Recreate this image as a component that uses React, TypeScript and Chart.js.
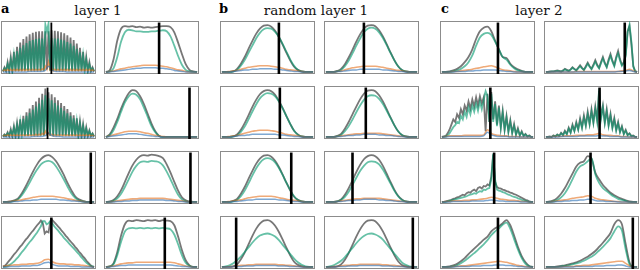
import React, { useEffect, useRef } from "react";
import { Chart, registerables } from "chart.js";

Chart.register(...registerables);

// ---------- titles ----------
const panelLetters = ["a", "b", "c"];
const panelTitles = ["layer 1", "random layer 1", "layer 2"];

// ---------- panel a (row-major: r1c1, r1c2, r2c1, r2c2, r3c1, r3c2, r4c1, r4c2) ----------
const a1Gray = [.02,.1,.03,.2,.03,.3,.04,.4,.04,.5,.04,.58,.04,.65,.05,.7,.05,.74,.05,.77,.05,.79,.05,.8,.05,.8,.05,.8,.06,.8,.05,.82,.05,.81,.05,.8,.05,.78,.05,.76,.05,.72,.05,.68,.04,.63,.04,.56,.04,.48,.04,.4,.03,.3,.03,.2,.03,.1,.02];
const a1Green = [.02,.08,.03,.16,.03,.24,.03,.33,.03,.41,.03,.48,.03,.53,.03,.57,.03,.61,.03,.63,.03,.65,.03,.66,.03,.66,.03,.93,.8,.95,.03,.67,.03,.66,.03,.66,.03,.64,.03,.62,.03,.59,.03,.56,.03,.52,.03,.46,.03,.39,.03,.33,.03,.25,.03,.16,.03,.08,.02];
const a1Orange = [.02,.05,.03,.06,.03,.06,.03,.06,.03,.06,.03,.06,.03,.06,.03,.06,.03,.06,.03,.06,.03,.06,.03,.06,.03,.07,.04,.12,.06,.2,.05,.08,.03,.06,.03,.06,.03,.06,.03,.06,.03,.06,.03,.06,.03,.06,.03,.06,.03,.06,.03,.06,.03,.06,.03,.06,.03,.05,.02];
const a1Blue = [.01,.01,.01,.01,.01,.01,.01,.02,.02,.02,.02,.03,.12,.04,.02,.02,.02,.01,.01,.01,.01,.01,.01,.01,.01];

const a2Gray = [.01,.04,.25,.62,.85,.9,.89,.9,.88,.89,.87,.88,.87,.88,.89,.9,.9,.88,.78,.58,.36,.16,.05,.02,.01];
const a2Green = [.01,.02,.08,.3,.6,.78,.83,.82,.8,.8,.79,.79,.8,.8,.81,.82,.8,.7,.52,.32,.15,.05,.02,.01,.01];
const a2Orange = [.01,.02,.03,.05,.07,.08,.1,.11,.12,.13,.14,.14,.14,.14,.13,.12,.11,.09,.07,.05,.04,.02,.01,.01,.01];
const a2Blue = [.01,.01,.02,.03,.04,.05,.06,.07,.08,.08,.09,.09,.09,.09,.08,.08,.07,.06,.04,.03,.02,.01,.01,.01,.01];

const a3Gray = [.02,.06,.03,.1,.03,.16,.03,.22,.03,.28,.04,.35,.04,.42,.04,.49,.04,.56,.05,.63,.05,.7,.05,.77,.05,.85,.05,.95,.06,.88,.05,.84,.05,.78,.05,.72,.05,.67,.05,.61,.05,.55,.04,.49,.04,.43,.04,.37,.04,.31,.03,.26,.03,.2,.03,.14,.03,.08,.02];
const a3Green = [.02,.05,.03,.08,.03,.13,.03,.19,.03,.24,.03,.3,.03,.36,.03,.42,.03,.48,.03,.54,.03,.6,.03,.66,.03,.73,.03,.82,.04,.76,.03,.72,.03,.67,.03,.62,.03,.57,.03,.52,.03,.47,.03,.42,.03,.37,.03,.32,.03,.27,.03,.22,.03,.17,.03,.12,.03,.07,.02];
const a3Orange = [.02,.04,.03,.05,.03,.05,.03,.05,.03,.05,.03,.05,.03,.05,.03,.05,.03,.05,.03,.05,.03,.06,.03,.06,.04,.08,.05,.12,.05,.09,.04,.06,.03,.05,.03,.05,.03,.05,.03,.05,.03,.05,.03,.05,.03,.05,.03,.05,.03,.05,.03,.05,.03,.05,.03,.05,.03,.04,.02];
const a3Blue = [.01,.01,.01,.01,.01,.01,.01,.01,.02,.02,.02,.03,.08,.03,.02,.02,.01,.01,.01,.01,.01,.01,.01,.01,.01];

const a4Gray = [.01,.06,.19,.36,.56,.73,.86,.92,.9,.8,.65,.46,.27,.12,.03,.01,.01,.01,.01,.01,.01,.01,.01,.01,.01];
const a4Green = [.01,.04,.14,.3,.5,.68,.8,.85,.83,.74,.58,.4,.22,.1,.03,.01,.01,.01,.01,.01,.01,.01,.01,.01,.01];
const a4Orange = [.01,.03,.05,.07,.09,.11,.12,.12,.12,.11,.09,.08,.06,.04,.03,.02,.01,.01,.01,.01,.01,.01,.01,.01,.01];
const a4Blue = [.01,.02,.03,.04,.05,.06,.07,.07,.07,.06,.05,.04,.03,.02,.02,.01,.01,.01,.01,.01,.01,.01,.01,.01,.01];

const a5Gray = [.01,.01,.02,.04,.08,.18,.31,.46,.61,.74,.84,.9,.92,.88,.8,.68,.54,.38,.24,.12,.06,.03,.01,.01,.01];
const a5Green = [.01,.01,.01,.03,.06,.14,.25,.38,.52,.64,.74,.79,.81,.78,.7,.58,.45,.31,.18,.09,.04,.02,.01,.01,.01];
const a5Orange = [.01,.01,.02,.03,.04,.05,.07,.08,.1,.11,.12,.12,.12,.12,.11,.1,.09,.07,.06,.04,.03,.02,.01,.01,.01];
const a5Blue = [.01,.01,.01,.02,.02,.03,.04,.04,.05,.05,.06,.06,.06,.06,.06,.05,.05,.04,.03,.03,.02,.01,.01,.01,.01];

const a6Gray = [.01,.02,.05,.12,.24,.4,.57,.72,.83,.9,.92,.91,.93,.92,.9,.86,.74,.58,.4,.23,.1,.04,.02,.01,.01];
const a6Green = [.01,.01,.03,.08,.17,.3,.45,.6,.71,.78,.8,.79,.81,.8,.78,.72,.6,.45,.29,.15,.06,.02,.01,.01,.01];
const a6Orange = [.01,.01,.02,.03,.04,.05,.06,.07,.07,.08,.08,.08,.08,.08,.08,.08,.07,.06,.05,.04,.03,.02,.01,.01,.01];
const a6Blue = [.01,.01,.01,.02,.02,.03,.03,.04,.04,.05,.05,.05,.05,.05,.05,.05,.04,.04,.03,.02,.02,.01,.01,.01,.01];

const a7Gray = [.02,.03,.07,.12,.16,.21,.26,.3,.35,.4,.44,.49,.54,.58,.63,.68,.72,.77,.82,.86,.91,.86,.66,.7,.68,.9,.92,.88,.84,.8,.76,.71,.67,.62,.58,.53,.49,.45,.4,.36,.31,.27,.22,.18,.13,.09,.05,.02,.01];
const a7Green = [.01,.01,.02,.04,.06,.09,.12,.16,.2,.25,.3,.34,.39,.44,.49,.53,.58,.63,.68,.74,.8,.9,.9,.84,.86,.9,.86,.8,.76,.72,.67,.63,.58,.54,.5,.46,.42,.38,.34,.3,.26,.21,.17,.13,.09,.06,.03,.02,.01];
const a7Orange = [.02,.03,.04,.05,.05,.06,.06,.07,.07,.08,.1,.15,.16,.11,.08,.07,.07,.06,.06,.05,.05,.04,.03,.02,.01];
const a7Blue = [.01,.01,.02,.02,.02,.03,.03,.03,.04,.04,.06,.09,.1,.06,.04,.03,.03,.03,.02,.02,.02,.01,.01,.01,.01];

const a8Gray = [.01,.02,.08,.3,.62,.84,.91,.9,.92,.91,.9,.92,.91,.92,.9,.92,.91,.9,.82,.6,.34,.14,.04,.01,.01];
const a8Green = [.01,.02,.06,.24,.5,.7,.76,.77,.76,.77,.76,.77,.76,.77,.76,.77,.76,.74,.64,.45,.24,.09,.03,.01,.01];
const a8Orange = [.01,.02,.03,.05,.07,.08,.09,.09,.1,.1,.1,.1,.1,.1,.1,.1,.1,.1,.09,.07,.05,.03,.02,.01,.01];
const a8Blue = [.01,.01,.02,.03,.04,.04,.05,.05,.05,.05,.05,.05,.05,.05,.05,.05,.05,.05,.04,.03,.02,.02,.01,.01,.01];

const aVline = [0.53, 0.58, 0.49, 0.9, 0.945, 0.91, 0.53, 0.64];

// ---------- panel b ----------
const b1Gray = [.01,.01,.01,.02,.07,.17,.3,.46,.61,.75,.85,.91,.92,.89,.81,.69,.54,.38,.23,.11,.05,.02,.01,.01,.01];
const b1Green = [.01,.01,.01,.02,.05,.13,.24,.38,.52,.66,.77,.84,.86,.85,.79,.69,.55,.4,.25,.13,.05,.02,.01,.01,.01];
const b1Orange = [.01,.01,.02,.03,.04,.06,.08,.1,.11,.12,.13,.13,.13,.12,.11,.1,.08,.06,.05,.04,.03,.02,.01,.01,.01];
const b1Blue = [.01,.01,.01,.02,.03,.04,.05,.05,.06,.06,.07,.07,.07,.07,.06,.06,.05,.04,.03,.02,.02,.01,.01,.01,.01];

const b2Gray = [.01,.01,.01,.03,.07,.16,.29,.44,.6,.74,.85,.91,.92,.9,.82,.7,.55,.39,.24,.12,.05,.02,.01,.01,.01];
const b2Green = [.01,.01,.01,.02,.05,.12,.23,.37,.52,.66,.78,.85,.87,.85,.78,.67,.53,.38,.24,.12,.05,.02,.01,.01,.01];
const b2Orange = [.01,.01,.01,.02,.03,.05,.07,.09,.1,.11,.12,.12,.12,.12,.11,.1,.08,.07,.05,.04,.03,.02,.01,.01,.01];
const b2Blue = [.01,.01,.01,.02,.02,.03,.04,.05,.05,.06,.06,.06,.06,.06,.06,.05,.05,.04,.03,.02,.02,.01,.01,.01,.01];

const b3Gray = [.01,.01,.01,.02,.06,.15,.28,.43,.59,.73,.84,.9,.92,.9,.83,.71,.57,.41,.26,.13,.06,.02,.01,.01,.01];
const b3Green = [.01,.01,.01,.02,.04,.11,.21,.35,.5,.64,.76,.83,.86,.85,.8,.7,.56,.41,.26,.13,.05,.02,.01,.01,.01];
const b3Orange = [.01,.01,.02,.03,.04,.06,.08,.1,.12,.13,.14,.14,.14,.13,.12,.1,.08,.06,.05,.04,.03,.02,.01,.01,.01];
const b3Blue = [.01,.01,.01,.02,.03,.04,.04,.05,.06,.06,.06,.06,.06,.06,.06,.05,.05,.04,.03,.02,.02,.01,.01,.01,.01];

const b4Gray = [.01,.01,.01,.03,.07,.17,.3,.45,.6,.74,.85,.91,.92,.9,.82,.7,.55,.39,.24,.12,.05,.02,.01,.01,.01];
const b4Green = [.01,.01,.01,.02,.05,.12,.22,.35,.49,.62,.73,.8,.82,.81,.75,.65,.52,.38,.24,.12,.05,.02,.01,.01,.01];
const b4Orange = [.01,.01,.01,.02,.03,.04,.05,.06,.07,.07,.08,.08,.08,.08,.08,.07,.06,.05,.04,.03,.02,.02,.01,.01,.01];
const b4Blue = [.01,.01,.01,.02,.02,.03,.04,.04,.05,.05,.06,.06,.06,.06,.05,.05,.04,.04,.03,.02,.02,.01,.01,.01,.01];

const b5Gray = [.01,.01,.01,.03,.07,.17,.3,.46,.61,.75,.85,.91,.92,.89,.81,.69,.54,.38,.23,.11,.05,.02,.01,.01,.01];
const b5Green = [.01,.01,.01,.02,.05,.12,.23,.37,.52,.66,.77,.84,.86,.84,.78,.67,.53,.38,.24,.12,.05,.02,.01,.01,.01];
const b5Orange = [.01,.01,.02,.03,.04,.05,.07,.09,.1,.11,.12,.12,.12,.12,.11,.09,.08,.06,.05,.04,.03,.02,.01,.01,.01];
const b5Blue = [.01,.01,.01,.02,.02,.03,.04,.05,.05,.06,.06,.06,.06,.06,.06,.05,.05,.04,.03,.02,.02,.01,.01,.01,.01];

const b6Gray = [.01,.01,.01,.02,.06,.15,.28,.43,.59,.73,.84,.9,.92,.9,.83,.71,.56,.4,.25,.13,.06,.02,.01,.01,.01];
const b6Green = [.01,.01,.01,.02,.05,.11,.21,.34,.48,.61,.71,.78,.8,.79,.74,.64,.51,.37,.23,.12,.05,.02,.01,.01,.01];
const b6Orange = [.01,.01,.01,.02,.03,.04,.05,.06,.07,.07,.08,.08,.08,.08,.08,.07,.06,.05,.04,.03,.02,.02,.01,.01,.01];
const b6Blue = [.01,.01,.01,.02,.02,.03,.04,.04,.05,.05,.06,.06,.06,.06,.05,.05,.04,.04,.03,.02,.02,.01,.01,.01,.01];

const b7Gray = [.01,.01,.01,.02,.06,.16,.29,.45,.61,.75,.85,.91,.92,.89,.81,.69,.54,.38,.23,.11,.05,.02,.01,.01,.01];
const b7Green = [.01,.02,.04,.08,.14,.21,.3,.39,.48,.56,.62,.65,.66,.64,.6,.53,.44,.35,.26,.17,.1,.05,.02,.01,.01];
const b7Orange = [.01,.01,.02,.02,.03,.04,.04,.05,.05,.06,.06,.06,.06,.06,.06,.05,.05,.04,.04,.03,.02,.02,.01,.01,.01];
const b7Blue = [.01,.01,.01,.02,.02,.02,.03,.03,.03,.04,.04,.04,.04,.04,.04,.03,.03,.03,.02,.02,.02,.01,.01,.01,.01];

const b8Gray = [.01,.01,.01,.02,.06,.15,.28,.44,.6,.74,.85,.91,.92,.9,.82,.7,.55,.39,.24,.12,.05,.02,.01,.01,.01];
const b8Green = [.01,.02,.04,.08,.13,.2,.29,.38,.47,.55,.61,.65,.66,.64,.6,.54,.45,.36,.27,.18,.1,.05,.02,.01,.01];
const b8Orange = [.01,.01,.02,.02,.03,.04,.04,.05,.05,.06,.06,.06,.06,.06,.06,.05,.05,.04,.04,.03,.02,.02,.01,.01,.01];
const b8Blue = [.01,.01,.01,.02,.02,.02,.03,.03,.03,.04,.04,.04,.04,.04,.04,.03,.03,.03,.02,.02,.02,.01,.01,.01,.01];

const bVline = [0.62, 0.42, 0.63, 0.44, 0.75, 0.3, 0.17, 0.935];

// ---------- panel c ----------
const c1Gray = [.01,.01,.02,.04,.07,.12,.2,.3,.45,.65,.8,.87,.89,.8,.62,.45,.3,.28,.17,.1,.06,.03,.01,.01,.01];
const c1Green = [.01,.01,.01,.02,.04,.07,.12,.2,.33,.52,.68,.75,.77,.73,.6,.45,.3,.25,.15,.08,.04,.02,.01,.01,.01];
const c1Orange = [.01,.01,.01,.02,.02,.03,.04,.05,.06,.08,.09,.11,.12,.13,.11,.08,.05,.04,.03,.02,.01,.01,.01,.01,.01];
const c1Blue = [.01,.01,.01,.01,.02,.02,.02,.03,.03,.04,.04,.05,.05,.05,.05,.04,.03,.02,.02,.01,.01,.01,.01,.01,.01];

const c2Gray = [.01,.01,.02,.02,.02,.03,.04,.03,.02,.04,.07,.05,.03,.06,.1,.07,.04,.09,.14,.09,.05,.12,.19,.12,.07,.15,.24,.15,.09,.2,.3,.19,.11,.25,.36,.23,.14,.3,.42,.26,.15,.2,.35,.8,.9,.55,.12,.02,.01];
const c2Green = [.01,.01,.01,.02,.02,.02,.03,.02,.02,.03,.06,.04,.03,.05,.09,.06,.04,.08,.12,.08,.05,.1,.17,.11,.06,.13,.21,.13,.08,.18,.27,.17,.1,.22,.32,.21,.12,.27,.37,.23,.13,.18,.32,.78,.93,.6,.12,.02,.01];
const c2Orange = [.01,.01,.01,.01,.01,.01,.01,.01,.02,.02,.02,.02,.02,.02,.02,.02,.02,.02,.02,.02,.03,.04,.06,.03,.01];
const c2Blue = [.01,.01,.01,.01,.01,.01,.01,.01,.01,.01,.01,.01,.01,.01,.01,.01,.01,.01,.01,.02,.02,.03,.04,.02,.01];

const c3Gray = [.01,.02,.03,.08,.15,.25,.35,.3,.45,.38,.55,.45,.62,.52,.7,.56,.74,.6,.78,.62,.8,.66,.78,.12,.85,.3,.88,.35,.7,.25,.62,.2,.52,.16,.42,.12,.34,.09,.26,.06,.18,.04,.12,.03,.07,.02,.04,.01,.01];
const c3Green = [.01,.01,.02,.04,.08,.14,.2,.24,.3,.28,.42,.35,.5,.4,.58,.45,.62,.5,.66,.52,.7,.55,.72,.9,.8,.3,.85,.3,.65,.22,.58,.18,.48,.14,.38,.1,.3,.08,.22,.05,.15,.04,.1,.03,.06,.02,.03,.01,.01];
const c3Orange = [.01,.02,.03,.03,.03,.03,.04,.04,.04,.04,.04,.05,.15,.08,.05,.04,.03,.03,.02,.02,.02,.01,.01,.01,.01];
const c3Blue = [.01,.01,.02,.02,.02,.02,.02,.02,.02,.02,.02,.03,.1,.05,.03,.02,.02,.02,.01,.01,.01,.01,.01,.01,.01];

const c4Gray = [.01,.01,.02,.01,.04,.02,.06,.03,.09,.05,.13,.07,.19,.1,.25,.13,.3,.16,.37,.2,.43,.24,.5,.27,.55,.3,.6,.35,.9,.4,.62,.3,.55,.25,.46,.2,.38,.15,.3,.11,.22,.07,.15,.05,.08,.03,.04,.01,.01];
const c4Green = [.01,.01,.01,.01,.03,.02,.05,.03,.08,.04,.11,.06,.17,.09,.22,.12,.27,.15,.33,.18,.38,.22,.45,.25,.5,.28,.55,.3,.95,.35,.58,.27,.5,.22,.42,.18,.34,.13,.27,.1,.2,.06,.13,.04,.07,.02,.03,.01,.01];
const c4Orange = [.01,.01,.02,.02,.02,.03,.03,.03,.04,.04,.04,.05,.05,.06,.08,.05,.04,.04,.03,.03,.02,.02,.01,.01,.01];
const c4Blue = [.01,.01,.01,.01,.02,.02,.02,.02,.02,.03,.03,.03,.03,.03,.04,.03,.03,.02,.02,.02,.01,.01,.01,.01,.01];

const c5Gray = [.01,.01,.02,.03,.04,.05,.07,.08,.1,.11,.13,.15,.14,.18,.2,.19,.23,.25,.22,.28,.3,.27,.32,.31,.35,.33,.5,.93,.4,.3,.28,.27,.25,.24,.22,.21,.19,.18,.16,.15,.13,.11,.09,.07,.05,.04,.02,.01,.01];
const c5Green = [.01,.01,.01,.02,.03,.04,.05,.06,.07,.08,.09,.1,.11,.12,.14,.15,.16,.18,.17,.2,.22,.21,.25,.24,.27,.28,.45,.95,.45,.25,.23,.22,.2,.19,.17,.15,.14,.12,.11,.1,.08,.07,.05,.04,.03,.02,.01,.01,.01];
const c5Orange = [.01,.02,.02,.03,.03,.03,.04,.04,.05,.05,.06,.07,.08,.1,.09,.07,.06,.05,.04,.04,.03,.02,.02,.01,.01];
const c5Blue = [.01,.01,.01,.02,.02,.02,.02,.02,.03,.03,.03,.03,.04,.05,.04,.03,.03,.02,.02,.02,.02,.01,.01,.01,.01];

const c6Gray = [.01,.02,.04,.09,.17,.28,.42,.56,.7,.77,.8,.9,.85,.58,.45,.34,.26,.19,.14,.1,.07,.04,.02,.01,.01];
const c6Green = [.01,.01,.02,.05,.1,.18,.3,.45,.6,.7,.74,.8,.86,.55,.38,.28,.22,.16,.11,.07,.05,.03,.01,.01,.01];
const c6Orange = [.01,.01,.02,.03,.04,.05,.06,.08,.09,.1,.11,.13,.12,.08,.06,.05,.04,.03,.02,.02,.01,.01,.01,.01,.01];
const c6Blue = [.01,.01,.01,.02,.02,.03,.03,.04,.04,.05,.05,.06,.06,.04,.03,.03,.02,.02,.02,.01,.01,.01,.01,.01,.01];

const c7Gray = [.01,.01,.02,.04,.07,.12,.18,.26,.33,.4,.47,.54,.6,.7,.76,.8,.86,.92,.82,.62,.4,.22,.1,.03,.01];
const c7Green = [.01,.01,.01,.02,.04,.08,.13,.19,.25,.31,.38,.45,.53,.63,.7,.76,.83,.87,.75,.55,.35,.18,.07,.02,.01];
const c7Orange = [.01,.01,.01,.02,.02,.03,.03,.04,.05,.06,.07,.08,.09,.1,.11,.12,.11,.1,.08,.06,.04,.03,.02,.01,.01];
const c7Blue = [.01,.01,.01,.01,.02,.02,.02,.02,.03,.03,.03,.04,.04,.04,.05,.05,.05,.04,.04,.03,.02,.02,.01,.01,.01];

const c8Gray = [.01,.01,.01,.02,.03,.04,.06,.08,.1,.13,.17,.21,.26,.32,.4,.48,.57,.67,.84,.92,.84,.45,.1,.01,.01];
const c8Green = [.01,.01,.01,.01,.02,.03,.04,.06,.08,.1,.13,.17,.21,.26,.33,.4,.48,.57,.7,.8,.72,.35,.06,.01,.01];
const c8Orange = [.01,.01,.01,.01,.01,.02,.02,.02,.03,.03,.04,.04,.05,.06,.07,.08,.09,.1,.11,.12,.12,.08,.03,.01,.01];
const c8Blue = [.01,.01,.01,.01,.01,.01,.01,.01,.02,.02,.02,.02,.02,.03,.03,.03,.04,.04,.04,.05,.05,.03,.01,.01,.01];

const cVline = [0.61, 0.85, 0.53, 0.585, 0.57, 0.49, 0.61, 0.935];

// ---------- layout / style ----------
const COLS = [1, 104, 220, 324, 440, 544];
const ROWS = [21, 86, 151, 216];
const W = 95;
const H = 53;
const TITLE_X = [98, 316, 539];
const LETTER_X = [1, 219, 441];

const GRAY = "rgba(95,95,95,0.85)";
const GREEN = "rgba(0,152,108,0.6)";
const ORANGE = "rgba(226,100,10,0.55)";
const BLUE = "rgba(40,110,180,0.6)";
const FRAME = "#8c8c8c";

type SubData = { gray: number[]; green: number[]; orange: number[]; blue: number[]; vline: number; thin: boolean };

const panels: SubData[][] = [
  [
    { gray: a1Gray, green: a1Green, orange: a1Orange, blue: a1Blue, vline: aVline[0], thin: true },
    { gray: a2Gray, green: a2Green, orange: a2Orange, blue: a2Blue, vline: aVline[1], thin: false },
    { gray: a3Gray, green: a3Green, orange: a3Orange, blue: a3Blue, vline: aVline[2], thin: true },
    { gray: a4Gray, green: a4Green, orange: a4Orange, blue: a4Blue, vline: aVline[3], thin: false },
    { gray: a5Gray, green: a5Green, orange: a5Orange, blue: a5Blue, vline: aVline[4], thin: false },
    { gray: a6Gray, green: a6Green, orange: a6Orange, blue: a6Blue, vline: aVline[5], thin: false },
    { gray: a7Gray, green: a7Green, orange: a7Orange, blue: a7Blue, vline: aVline[6], thin: false },
    { gray: a8Gray, green: a8Green, orange: a8Orange, blue: a8Blue, vline: aVline[7], thin: false },
  ],
  [
    { gray: b1Gray, green: b1Green, orange: b1Orange, blue: b1Blue, vline: bVline[0], thin: false },
    { gray: b2Gray, green: b2Green, orange: b2Orange, blue: b2Blue, vline: bVline[1], thin: false },
    { gray: b3Gray, green: b3Green, orange: b3Orange, blue: b3Blue, vline: bVline[2], thin: false },
    { gray: b4Gray, green: b4Green, orange: b4Orange, blue: b4Blue, vline: bVline[3], thin: false },
    { gray: b5Gray, green: b5Green, orange: b5Orange, blue: b5Blue, vline: bVline[4], thin: false },
    { gray: b6Gray, green: b6Green, orange: b6Orange, blue: b6Blue, vline: bVline[5], thin: false },
    { gray: b7Gray, green: b7Green, orange: b7Orange, blue: b7Blue, vline: bVline[6], thin: false },
    { gray: b8Gray, green: b8Green, orange: b8Orange, blue: b8Blue, vline: bVline[7], thin: false },
  ],
  [
    { gray: c1Gray, green: c1Green, orange: c1Orange, blue: c1Blue, vline: cVline[0], thin: false },
    { gray: c2Gray, green: c2Green, orange: c2Orange, blue: c2Blue, vline: cVline[1], thin: false },
    { gray: c3Gray, green: c3Green, orange: c3Orange, blue: c3Blue, vline: cVline[2], thin: false },
    { gray: c4Gray, green: c4Green, orange: c4Orange, blue: c4Blue, vline: cVline[3], thin: false },
    { gray: c5Gray, green: c5Green, orange: c5Orange, blue: c5Blue, vline: cVline[4], thin: false },
    { gray: c6Gray, green: c6Green, orange: c6Orange, blue: c6Blue, vline: cVline[5], thin: false },
    { gray: c7Gray, green: c7Green, orange: c7Orange, blue: c7Blue, vline: cVline[6], thin: false },
    { gray: c8Gray, green: c8Green, orange: c8Orange, blue: c8Blue, vline: cVline[7], thin: false },
  ],
];

const framePlugin = {
  id: "frame",
  beforeDatasetsDraw(chart: any) {
    const { ctx, chartArea } = chart;
    ctx.save();
    ctx.strokeStyle = FRAME;
    ctx.lineWidth = 1;
    ctx.strokeRect(chartArea.left + 0.5, chartArea.top + 0.5, chartArea.right - chartArea.left - 1, chartArea.bottom - chartArea.top - 1);
    ctx.restore();
  },
};

function toPoints(arr: number[]) {
  return arr.map((y, i) => ({ x: 0.02 + (0.96 * i) / (arr.length - 1), y }));
}

function series(arr: number[], color: string, width: number) {
  return {
    data: toPoints(arr),
    borderColor: color,
    borderWidth: width,
    pointRadius: 0,
    fill: false,
    tension: 0,
    cubicInterpolationMode: arr.length <= 25 ? "monotone" : "default",
  };
}

function SubPlot({ d, left, top }: { d: SubData; left: number; top: number }) {
  const ref = useRef<HTMLCanvasElement | null>(null);
  useEffect(() => {
    if (!ref.current) return;
    const chart = new Chart(ref.current, {
      type: "line",
      data: {
        datasets: [
          {
            data: [
              { x: d.vline, y: -0.03 },
              { x: d.vline, y: 0.97 },
            ],
            borderColor: "#000000",
            borderWidth: d.thin ? 1.8 : 2.6,
            pointRadius: 0,
            fill: false,
          },
          series(d.blue, BLUE, 1.5),
          series(d.orange, ORANGE, 1.6),
          series(d.green, GREEN, 1.8),
          series(d.gray, GRAY, 1.8),
        ] as any,
      },
      options: {
        animation: false,
        responsive: false,
        events: [],
        layout: { padding: 0 },
        plugins: { legend: { display: false }, tooltip: { enabled: false }, title: { display: false } },
        scales: {
          x: { type: "linear", min: 0, max: 1, display: false },
          y: { type: "linear", min: -0.03, max: 1, display: false },
        },
      } as any,
      plugins: [framePlugin],
    });
    return () => chart.destroy();
  }, [d]);
  return (
    <canvas
      ref={ref}
      width={W}
      height={H}
      style={{ position: "absolute", left, top, width: W, height: H }}
    />
  );
}

export default function App() {
  return (
    <div
      style={{
        position: "fixed",
        left: 0,
        top: 0,
        width: 640,
        height: 270,
        background: "#ffffff",
        overflow: "hidden",
      }}
    >
      {panelLetters.map((l, p) => (
        <div
          key={"l" + p}
          style={{
            position: "absolute",
            left: LETTER_X[p],
            top: 1,
            fontFamily: "'DejaVu Serif', serif",
            fontWeight: "bold",
            fontSize: 13,
            lineHeight: "15px",
            color: "#000",
          }}
        >
          {l}
        </div>
      ))}
      {panelTitles.map((t, p) => (
        <div
          key={"t" + p}
          style={{
            position: "absolute",
            left: TITLE_X[p] - 80,
            width: 160,
            top: 2,
            textAlign: "center",
            fontFamily: "'DejaVu Serif', serif",
            fontSize: 13.5,
            lineHeight: "16px",
            color: "#111",
            whiteSpace: "nowrap",
          }}
        >
          {t}
        </div>
      ))}
      {panels.map((subs, p) =>
        subs.map((d, j) => (
          <SubPlot
            key={p + "-" + j}
            d={d}
            left={COLS[p * 2 + (j % 2)]}
            top={ROWS[Math.floor(j / 2)]}
          />
        ))
      )}
    </div>
  );
}
